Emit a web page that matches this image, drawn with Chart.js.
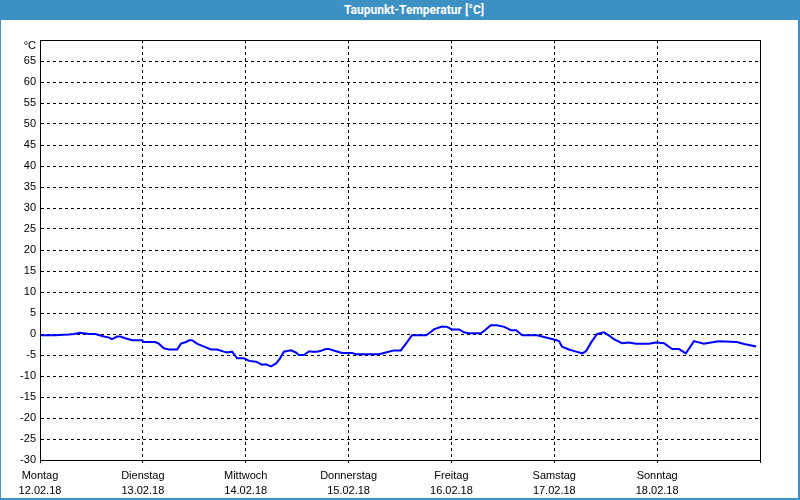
<!DOCTYPE html>
<html>
<head>
<meta charset="utf-8">
<script src="https://cdn.jsdelivr.net/npm/chart.js@4"></script>
<style>
  body { margin: 0; background: #fcfefd; }
  #frame { position: relative; width: 800px; height: 500px; overflow: hidden; }
  #titlebar {
    position: absolute; left: 0; top: 0; width: 800px; height: 20px;
    background: #3c90c4; color: #fff;
    font: bold 12px Roboto, sans-serif; line-height: 20px;
  }
  #titlebar span { position: absolute; left: 414px; transform: translateX(-50%); white-space: nowrap; }
  #myChart { position: absolute; left: 0; top: 0; }
  .edge { position: absolute; background: #3c90c4; }
</style>
</head>
<body>
<div id="frame">
  <canvas id="myChart" width="800" height="500"></canvas>
  <div id="titlebar"><span>Taupunkt-Temperatur [°C]</span></div>
  <div class="edge" style="left:0;top:20px;width:1px;height:480px"></div>
  <div class="edge" style="right:0;top:20px;width:2px;height:480px"></div>
  <div class="edge" style="left:0;bottom:0;width:800px;height:2px"></div>
</div>
<script>
  // Tage und Datum (x-Achse, alle 24 h)
  const tage = ['Montag', 'Dienstag', 'Mittwoch', 'Donnerstag', 'Freitag', 'Samstag', 'Sonntag'];
  const datum = ['12.02.18', '13.02.18', '14.02.18', '15.02.18', '16.02.18', '17.02.18', '18.02.18'];

  // Stunden seit Montag 00:00 und Taupunkt in °C
  const stunden = [0, 3.3, 6.7, 7.9, 9.4, 11.4, 12.9, 14.9, 16, 16.8, 18, 18.7, 19.9, 21.5, 23.8,
    24.2, 26.9, 27.7, 28.9, 30.1, 32, 32.9, 34.1, 34.8, 35.5, 36.6, 38.3, 39.9, 41.3, 42.9, 43.6,
    44.8, 46, 47.6, 48.8, 50.4, 51.8, 52.7, 53.9, 55.1, 56, 56.9, 58.6, 59.7, 60.4, 61.6, 62.8,
    63.5, 64.6, 65.6, 66.7, 67.4, 69.1, 70.5, 72.8, 73.7, 79.1, 80.7, 82.6, 84.2, 85.4, 86.8,
    90.1, 90.8, 91.9, 93.8, 95, 96.1, 97.8, 98.9, 100.1, 102.9, 103.6, 105.2, 106.6, 108.3,
    109.9, 111.1, 112.5, 116, 117.6, 119.9, 121.1, 121.8, 123.4, 125.1, 126.5, 127.4, 128.6,
    130, 131.6, 132.8, 133.9, 135.8, 137.4, 139.1, 142.1, 143.7, 145.6, 147.5, 149.1, 150.7,
    152.6, 154.9, 156.6, 158.4, 162.6, 164.3, 167.1];
  const taupunkt = [-0.3, -0.3, -0.1, 0, 0.3, 0, 0, -0.6, -0.8, -1.2, -0.6, -0.6, -1.0, -1.5, -1.5,
    -1.9, -1.9, -2.3, -3.4, -3.7, -3.7, -2.3, -1.9, -1.5, -1.5, -2.3, -3.0, -3.7, -3.7, -4.2, -4.4,
    -4.2, -5.8, -5.8, -6.4, -6.6, -7.3, -7.2, -7.7, -7.0, -5.8, -4.2, -3.9, -4.4, -5.0, -5.0, -4.1,
    -4.2, -4.2, -4.0, -3.6, -3.6, -4.1, -4.5, -4.5, -4.8, -4.8, -4.4, -3.9, -3.9, -2.3, -0.3,
    -0.3, 0.2, 1.1, 1.8, 1.7, 1.1, 1.1, 0.4, 0.2, 0.2, 0.7, 2.1, 2.1, 1.7,
    0.9, 0.9, -0.3, -0.3, -0.7, -1.3, -1.7, -3.0, -3.7, -4.2, -4.6, -4.1, -2.0,
    0, 0.4, -0.4, -1.2, -2.2, -2.0, -2.3, -2.3, -2.0, -2.2, -3.6, -3.6, -4.6,
    -1.7, -2.3, -2.0, -1.7, -1.9, -2.4, -3.0];

  const yMin = -30, yMax = 70, yStep = 5;

  const rahmen = {
    id: 'rahmen',
    afterDraw(chart) {
      const ctx = chart.ctx, a = chart.chartArea;
      ctx.save();
      ctx.strokeStyle = '#000';
      ctx.lineWidth = 1;
      ctx.strokeRect(Math.round(a.left) + 0.5, Math.round(a.top) + 0.5,
        Math.round(a.right - a.left), Math.round(a.bottom - a.top));
      ctx.fillStyle = '#000';
      ctx.font = '11px "Liberation Sans", Arial, sans-serif';
      ctx.textAlign = 'right';
      ctx.textBaseline = 'middle';
      ctx.fillText('°C', a.left - 4, a.top + 6);
      ctx.restore();
    }
  };

  const ctx = document.getElementById('myChart').getContext('2d');
  const myChart = new Chart(ctx, {
    type: 'line',
    data: {
      datasets: [{
        label: 'Taupunkt',
        data: stunden.map((h, i) => ({ x: h, y: taupunkt[i] })),
        borderColor: '#0000ff',
        borderWidth: 2,
        pointRadius: 0,
        tension: 0,
        fill: false
      }]
    },
    plugins: [rahmen],
    options: {
      responsive: false,
      animation: false,
      devicePixelRatio: 1,
      layout: { padding: { top: 40, right: 40, left: 0, bottom: 0 } },
      plugins: { legend: { display: false }, tooltip: { enabled: false } },
      scales: {
        x: {
          type: 'linear',
          min: 0,
          max: 168,
          afterBuildTicks: (axis) => { axis.ticks = [0, 24, 48, 72, 96, 120, 144, 168].map(v => ({ value: v })); },
          afterFit: (axis) => { axis.height = 40; },
          grid: { color: '#000', lineWidth: 1, tickLength: 3, tickColor: '#000' },
          border: { display: true, color: '#000', dash: [3, 3] },
          ticks: {
            autoSkip: false,
            maxRotation: 0,
            padding: 5,
            color: '#000',
            font: { family: '"Liberation Sans", Arial, sans-serif', size: 11, lineHeight: '15px' },
            callback: (v) => {
              const i = Math.round(v / 24);
              return i < tage.length ? [tage[i], datum[i]] : '';
            }
          }
        },
        y: {
          min: yMin,
          max: yMax,
          afterFit: (axis) => { axis.width = 40; },
          grid: { color: '#000', lineWidth: 1, drawTicks: false },
          border: { display: true, color: '#000', dash: [3, 3] },
          ticks: {
            stepSize: yStep,
            padding: 4,
            color: '#000',
            font: { family: '"Liberation Sans", Arial, sans-serif', size: 11 },
            callback: (v) => (v === yMax ? '' : v)
          }
        }
      }
    }
  });
</script>
</body>
</html>
